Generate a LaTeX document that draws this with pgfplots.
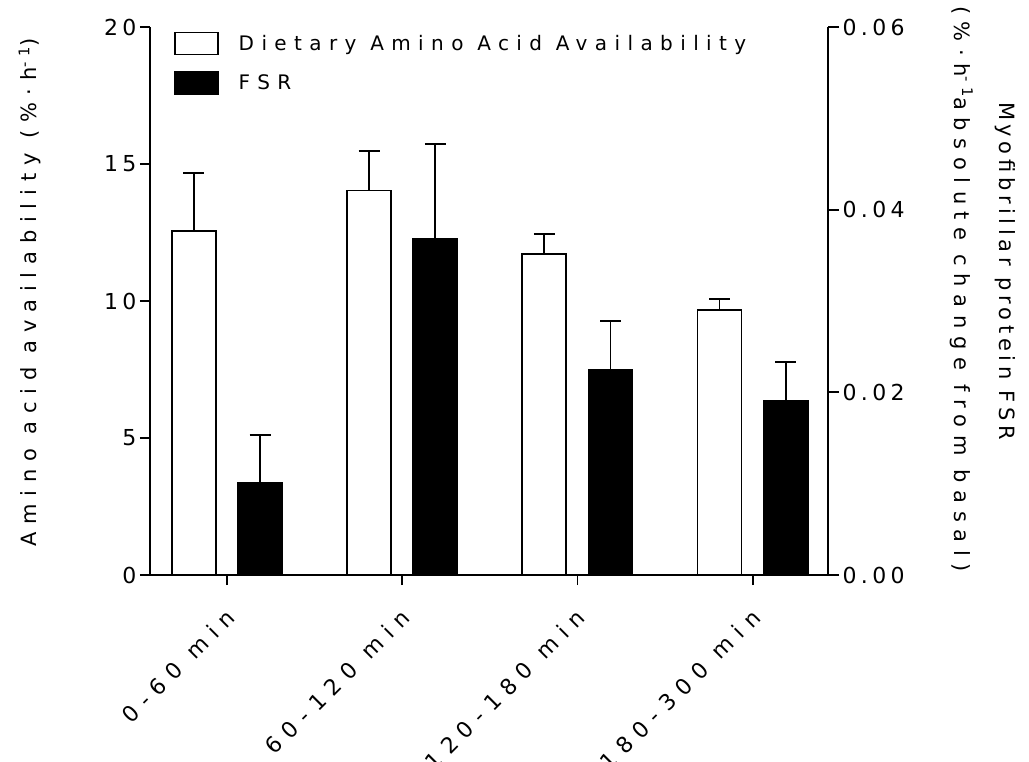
\documentclass[border=0pt]{standalone}
\usepackage{fontspec}
\setmainfont[LetterSpace=31]{DejaVu Sans}
\newfontfamily\tickfont[LetterSpace=20]{DejaVu Sans}
\newfontfamily\legfont[LetterSpace=37]{DejaVu Sans}
\newfontfamily\xfont[LetterSpace=38]{DejaVu Sans}
\newfontfamily\lfont[LetterSpace=37]{DejaVu Sans}
\newfontfamily\rfonta[LetterSpace=22]{DejaVu Sans}
\newfontfamily\rfontb[LetterSpace=36]{DejaVu Sans}
\usepackage{pgfplots}
\pgfplotsset{compat=1.18}
\newcommand{\cf}{\fontsize{21bp}{25bp}\selectfont}
\newcommand{\tf}{\tickfont\fontsize{22bp}{26bp}\selectfont}
\begin{document}
\begin{tikzpicture}
\useasboundingbox (-150bp,-187bp) rectangle (879bp,575bp);
\pgfplotsset{
  common/.style={
    at={(0,0)}, anchor=south west,
    scale only axis, width=678bp, height=548bp,
    xmin=-0.44, xmax=3.43,
    ymin=0,
    tick align=outside,
    major tick length=10bp,
    axis line style={line width=1.8bp},
    tick style={line width=1.8bp, black},
    every tick label/.append style={font=\tf},
    label style={font=\cf},
    /pgf/number format/assume math mode=true,
    bar width=44bp,
    clip=false,
  }
}
\begin{axis}[common,
  ymax=20,
  axis x line*=bottom, axis y line*=left,
  ytick={0,5,10,15,20},
  xtick={0,1,2,3},
  xticklabels={0-60 min,60-120 min,120-180 min,180-300 min},
  xticklabel style={font=\xfont\fontsize{22bp}{26bp}\selectfont, xshift=6bp, yshift=-26bp, rotate=45, anchor=east},
  ylabel={\lfont Amino acid availability (\%·h\textsuperscript{-1})},
  ylabel style={at={(axis description cs:-0.177,0.515)}, anchor=center},
  legend style={draw=none, fill=none, font=\legfont\fontsize{20bp}{24bp}\selectfont, at={(axis description cs:0.035,0.992)}, anchor=north west, row sep=16bp, column sep=18bp, inner sep=0pt, cells={anchor=west}},
  legend image code/.code={\draw[#1, line width=1.8bp] (0bp,-11bp) rectangle (43bp,11bp);},
]
\addplot[ybar, bar shift=0pt, draw=black, fill=white, line width=1.8bp,
  error bars/.cd, y dir=plus, y explicit,
  error bar style={line width=1.8bp, black},
  error mark options={rotate=90, mark size=10.5bp, line width=2bp, black}]
  coordinates {(-0.189,12.55) +- (0,2.12) (0.811,14.03) +- (0,1.44) (1.811,11.72) +- (0,0.71) (2.811,9.66) +- (0,0.41)};
\addlegendentry{Dietary Amino Acid Availability}
\addlegendimage{draw=black, fill=black}
\addlegendentry{FSR}
\end{axis}
\begin{axis}[common,
  ymax=0.06,
  axis x line=none, axis y line*=right,
  major tick length=11bp,
  ytick={0,0.02,0.04,0.06},
  yticklabel style={/pgf/number format/.cd, fixed, fixed zerofill, precision=2},
  scaled y ticks=false,
  ylabel={\rfonta Myofibrillar protein FSR\hspace*{36bp}\\\rfontb(\%·h\textsuperscript{-1}absolute change from basal)},
  ylabel style={align=center, rotate=180, font=\fontsize{21bp}{45bp}\selectfont, at={(axis description cs:1.2286,0.522)}, anchor=center},
]
\addplot[ybar, bar shift=0pt, draw=black, fill=black, line width=1.8bp,
  error bars/.cd, y dir=plus, y explicit,
  error bar style={line width=1.8bp, black},
  error mark options={rotate=90, mark size=10.5bp, line width=2bp, black}]
  coordinates {(0.189,0.0101) +- (0,0.0052) (1.189,0.0368) +- (0,0.0104) (2.189,0.0225) +- (0,0.0053) (3.189,0.0191) +- (0,0.0042)};
\end{axis}
\end{tikzpicture}
\end{document}
